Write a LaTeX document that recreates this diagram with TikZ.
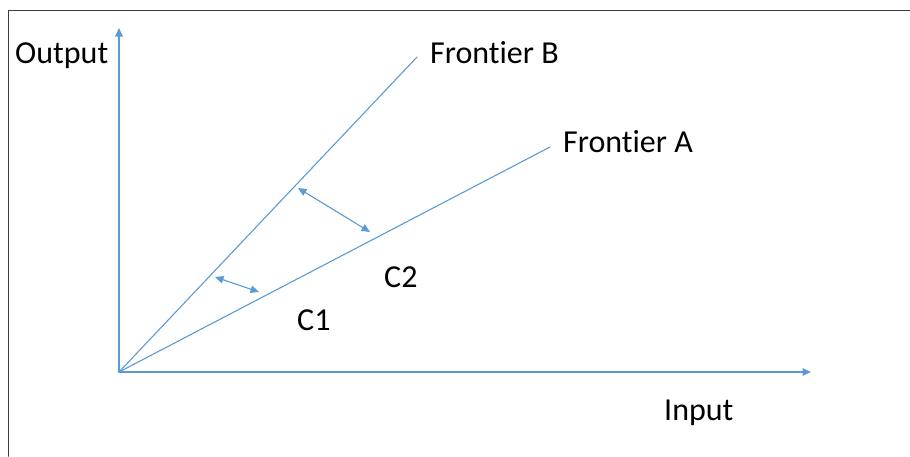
\documentclass[tikz,border=0pt]{standalone}
\usepackage{fontspec}
\setmainfont[Ligatures=NoCommon]{Carlito}
\usetikzlibrary{arrows.meta}
\definecolor{axisblue}{RGB}{91,155,213}
\definecolor{framegray}{RGB}{60,60,60}
\begin{document}
\begin{tikzpicture}[x=1pt,y=-1pt,line join=round,line cap=round,>={Triangle[length=8.5pt,width=7.5pt]}]
			\tikzset{every node/.style={font=\fontsize{32}{38}\selectfont,inner sep=0pt},
				ax/.style={axisblue,line width=1.6pt},
				frontier/.style={axisblue,line width=1.1pt},
				gap/.style={axisblue,line width=1.1pt,<->}}
			\useasboundingbox (0,0) rectangle (910,456);
			\draw[framegray,line width=1.5pt] (8.5,456)--(8.5,10.5)--(910,10.5);
			\coordinate (O) at (119,372);
			\coordinate (ytop) at (119,28);
			\coordinate (xend) at (811,372);
			\coordinate (Bend) at (417,57);
			\coordinate (Aend) at (550,147);
			\draw[ax,->] (O)--(ytop);
			\draw[ax,->] (O)--(xend);
			\draw[frontier] (O)--(Bend);
			\draw[frontier] (O)--(Aend);
			% gaps between the two frontiers
			\coordinate (c1b) at (215,277);
			\coordinate (c1a) at (259,292);
			\coordinate (c2b) at (298,188);
			\coordinate (c2a) at (370,232);
			\draw[gap] (c1b)--(c1a);
			\draw[gap] (c2b)--(c2a);
			\node[anchor=base west] (output) at (15,63) {Output};
			\node[anchor=base west] (input) at (664,420) {Input};
			\node[anchor=base west] (labB) at (430,63) {Frontier B};
			\node[anchor=base west] (labA) at (563,152) {Frontier A};
			\node[anchor=base west] (c2) at (384,287) {C2};
			\node[anchor=base west] (c1) at (297,330) {C1};
		\end{tikzpicture}
\end{document}
